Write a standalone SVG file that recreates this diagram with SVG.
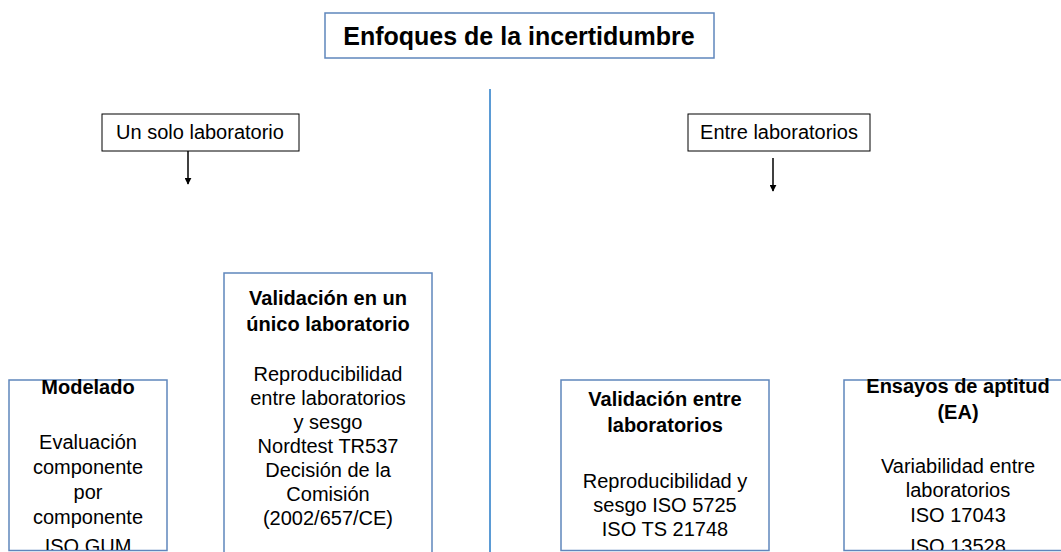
<svg xmlns="http://www.w3.org/2000/svg" width="1061" height="552" viewBox="0 0 1061 552">
<defs>
<style>
.t{font-family:"Liberation Sans",Arial,sans-serif;font-size:20px;fill:#000;text-anchor:middle}
.b{font-weight:bold}
.title{font-family:"Liberation Sans",Arial,sans-serif;font-size:25px;font-weight:bold;fill:#000;text-anchor:middle}
.bx{fill:#fff;stroke:#5F86BC;stroke-width:1.5}
.kb{fill:#fff;stroke:#000;stroke-width:1}
.ar{stroke:#000;stroke-width:1.5;fill:none}
</style>
<marker id="ah" viewBox="0 0 10 10" refX="9" refY="5" markerWidth="7" markerHeight="7" markerUnits="userSpaceOnUse" orient="auto">
<path d="M0,0 L10,5 L0,10 z" fill="#000"/>
</marker>
<clipPath id="c1"><rect x="9" y="370" width="158" height="180"/></clipPath>
<clipPath id="c3"><rect x="561" y="370" width="208" height="180"/></clipPath>
<clipPath id="c4"><rect x="844" y="370" width="230" height="180"/></clipPath>
</defs>
<rect width="1061" height="552" fill="#fff"/>
<g id="connectors">
<line x1="490" y1="89" x2="490" y2="552" stroke="#5B9BD5" stroke-width="2"/>
<line class="ar" x1="188" y1="151" x2="188" y2="184" marker-end="url(#ah)"/>
<line class="ar" x1="773" y1="158" x2="773" y2="191" marker-end="url(#ah)"/>
</g>
<g id="title">
<rect class="bx" x="325" y="13" width="389" height="45"/>
<text class="title" x="519" y="45">Enfoques de la incertidumbre</text>
</g>
<g id="un-solo">
<rect class="kb" x="102" y="114" width="197" height="37"/>
<text class="t" x="200" y="139">Un solo laboratorio</text>
</g>
<g id="entre">
<rect class="kb" x="688" y="114" width="182" height="37"/>
<text class="t" x="779" y="139">Entre laboratorios</text>
</g>
<g id="modelado">
<rect class="bx" x="9" y="380" width="158" height="170.5"/>
<g clip-path="url(#c1)">
<text class="t b" x="88" y="394">Modelado</text>
<text class="t" x="88" y="449">Evaluación</text>
<text class="t" x="88" y="474">componente</text>
<text class="t" x="88" y="499">por</text>
<text class="t" x="88" y="524">componente</text>
<text class="t" x="88" y="553">ISO GUM</text>
</g>
</g>
<g id="validacion-unico">
<rect class="bx" x="224" y="273" width="208" height="285"/>
<text class="t b" x="328" y="305">Validación en un</text>
<text class="t b" x="328" y="331">único laboratorio</text>
<text class="t" x="328" y="381">Reproducibilidad</text>
<text class="t" x="328" y="405">entre laboratorios</text>
<text class="t" x="328" y="429">y sesgo</text>
<text class="t" x="328" y="453">Nordtest TR537</text>
<text class="t" x="328" y="477">Decisión de la</text>
<text class="t" x="328" y="501">Comisión</text>
<text class="t" x="328" y="525">(2002/657/CE)</text>
</g>
<g id="validacion-entre">
<rect class="bx" x="561" y="380" width="208" height="170.5"/>
<g clip-path="url(#c3)">
<text class="t b" x="665" y="406">Validación entre</text>
<text class="t b" x="665" y="432">laboratorios</text>
<text class="t" x="665" y="488">Reproducibilidad y</text>
<text class="t" x="665" y="512">sesgo ISO 5725</text>
<text class="t" x="665" y="536">ISO TS 21748</text>
</g>
</g>
<g id="ensayos">
<rect class="bx" x="844" y="380" width="230" height="170.5"/>
<g clip-path="url(#c4)">
<text class="t b" x="958" y="393">Ensayos de aptitud</text>
<text class="t b" x="958" y="419">(EA)</text>
<text class="t" x="958" y="473">Variabilidad entre</text>
<text class="t" x="958" y="497">laboratorios</text>
<text class="t" x="958" y="522">ISO 17043</text>
<text class="t" x="958" y="553">ISO 13528</text>
</g>
</g>
</svg>
